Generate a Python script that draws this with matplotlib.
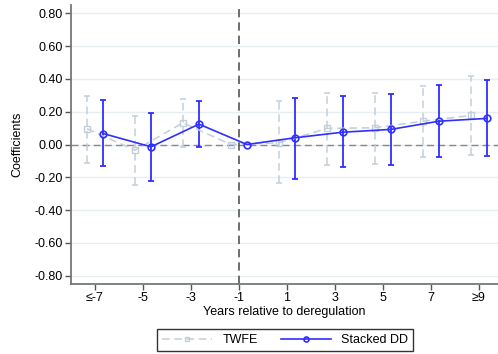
import numpy as np
import matplotlib
matplotlib.use("Agg")
import matplotlib.pyplot as plt

# event time bins and their labels
event_time = [-7, -5, -3, -1, 1, 3, 5, 7, 9]
tick_labels = ["≤-7", "-5", "-3", "-1", "1", "3", "5", "7", "≥9"]

# TWFE estimates and 95% CI
twfe_coef = [0.096, -0.035, 0.132, 0.0, 0.010, 0.098, 0.102, 0.142, 0.177]
twfe_lo = [-0.114, -0.246, -0.016, 0.0, -0.234, -0.126, -0.118, -0.078, -0.067]
twfe_hi = [0.297, 0.175, 0.279, 0.0, 0.263, 0.311, 0.311, 0.358, 0.415]

# Stacked DD estimates and 95% CI
stk_coef = [0.067, -0.014, 0.124, 0.0, 0.041, 0.075, 0.092, 0.142, 0.159]
stk_lo = [-0.132, -0.222, -0.014, 0.0, -0.209, -0.139, -0.122, -0.075, -0.069]
stk_hi = [0.271, 0.191, 0.267, 0.0, 0.283, 0.293, 0.305, 0.362, 0.391]

plt.rcParams["font.family"] = ["Liberation Sans", "DejaVu Sans"]

fig = plt.figure(figsize=(4.98, 3.54), dpi=100)
ax = fig.add_axes([0.1426, 0.1977, 0.8574, 0.7882])

x = np.array(event_time, dtype=float)
gray = "#c3ced8"
blue = "#2f2fff"

# reference lines
ax.axhline(0, color="#888888", lw=1.0, ls=(0, (5, 3)), zorder=1)
ax.axvline(-1, color="#555555", lw=1.2, ls=(0, (5, 3)), zorder=1)

def ci_bars(xs, lo, hi, color, ls, lw):
    keep = [i for i in range(len(xs)) if hi[i] != lo[i]]
    xs_k = xs[keep]
    lo_k = np.array(lo)[keep]
    hi_k = np.array(hi)[keep]
    ax.vlines(xs_k, lo_k, hi_k, color=color, lw=lw, linestyles=ls, zorder=2)
    ax.hlines(lo_k, xs_k - 0.13, xs_k + 0.13, color=color, lw=lw, zorder=2)
    ax.hlines(hi_k, xs_k - 0.13, xs_k + 0.13, color=color, lw=lw, zorder=2)

xt = x - 1 / 3
xs = x + 1 / 3
ci_bars(xt, twfe_lo, twfe_hi, gray, (0, (5, 3)), 1.1)
ci_bars(xs, stk_lo, stk_hi, blue, "solid", 1.3)

ax.plot(xt, twfe_coef, color=gray, lw=1.1, ls=(0, (5, 3)), marker="s",
        ms=4, mfc="none", mec=gray, mew=1.0, label="TWFE", zorder=3)
ax.plot(xs, stk_coef, color=blue, lw=1.2, marker="o", ms=4.8, mfc="none",
        mec=blue, mew=1.2, label="Stacked DD", zorder=4)

ax.set_xlim(-8, 9.8)
ax.set_ylim(-0.85, 0.85)
ax.set_xticks(event_time)
ax.set_xticklabels(tick_labels)
yt = np.arange(-0.8, 0.81, 0.2)
ax.set_yticks(yt)
ax.set_yticklabels([f"{v:.2f}" if abs(v) > 1e-9 else "0.00" for v in yt])
ax.grid(axis="y", color="#e6eef1", lw=1.0, zorder=0)
ax.set_axisbelow(True)

for s in ["top", "right"]:
    ax.spines[s].set_visible(False)
for s in ["left", "bottom"]:
    ax.spines[s].set_color("#777777")
    ax.spines[s].set_linewidth(1.3)
ax.tick_params(labelsize=9, length=4, width=1, color="#555555", pad=2)

ax.set_xlabel("Years relative to deregulation", fontsize=9, labelpad=1)
ax.set_ylabel("Coefficients", fontsize=9, labelpad=8)

leg = fig.legend(loc="center", bbox_to_anchor=(0.5728, 0.0395), ncol=2,
                 fontsize=9, frameon=True, fancybox=False, handlelength=4.0,
                 columnspacing=1.9, borderpad=0.4, handletextpad=0.8,
                 markerscale=0.75)
leg.get_frame().set_edgecolor("black")
leg.get_frame().set_linewidth(1.0)

fig.savefig("out.png", dpi=100)
